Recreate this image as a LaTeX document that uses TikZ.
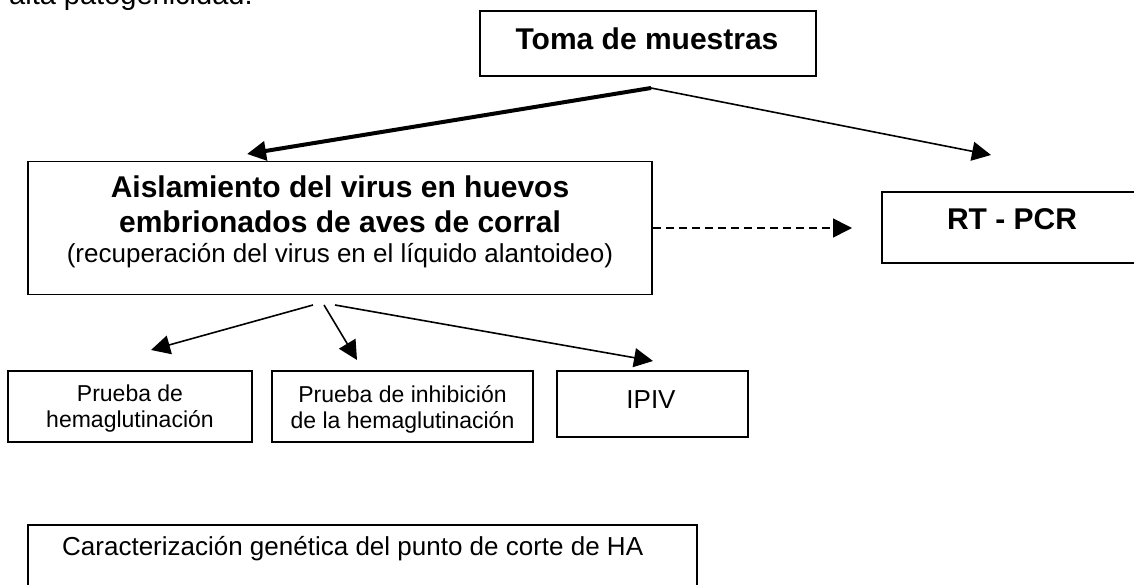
\documentclass[tikz,border=0pt]{standalone}
\usepackage{fontspec}
\setmainfont{Liberation Sans}
\usetikzlibrary{arrows.meta}

\begin{document}
\begin{tikzpicture}[x=1pt,y=-1pt,>={Triangle[length=19pt,width=19pt]}]
  \tikzstyle{caja}=[draw=black, line width=1.8pt, fill=white, inner sep=0pt]
  \tikzstyle{titulo}=[font=\fontsize{30}{35}\selectfont\bfseries, align=center, inner sep=0pt]
  \tikzstyle{texto}=[font=\fontsize{26}{30}\selectfont, align=center, inner sep=0pt]
  \tikzstyle{textochico}=[font=\fontsize{23}{26}\selectfont, align=center, inner sep=0pt]
  \tikzstyle{flecha}=[->, line width=1.6pt]
  \tikzstyle{flechagruesa}=[->, line width=4pt]
  \tikzstyle{flechapunteada}=[->, line width=1.6pt, dash pattern=on 8pt off 5pt]

  \path[use as bounding box] (0,0) rectangle (1134,585);

  \node[inner sep=0pt, anchor=base west, font=\fontsize{29}{33}\selectfont] (parrafo) at (9,5) {alta patogenicidad.};

  % cajas
  \node[caja, minimum width=336pt, minimum height=65pt] (toma) at (648,43.5) {};
  \node[titulo, anchor=base] (tomatxt) at (647,50) {Toma de muestras};

  \node[caja, minimum width=624pt, minimum height=133pt] (aisl) at (340,228) {};
  \node[titulo] (aisltxt) at (340,222)
    {Aislamiento del virus en huevos\\embrionados de aves de corral\\[-5pt]
     {\fontsize{26}{30}\selectfont\mdseries (recuperación del virus en el líquido alantoideo)}};

  \node[caja, minimum width=261pt, minimum height=71pt] (rtpcr) at (1012.5,227.5) {};
  \node[titulo, anchor=base] (rtpcrtxt) at (1012,230) {RT - PCR};

  \node[caja, minimum width=244pt, minimum height=71pt] (phema) at (130,406.5) {};
  \node[textochico] (phematxt) at (130,409) {Prueba de\\hemaglutinación};

  \node[caja, minimum width=261pt, minimum height=71pt] (pinhib) at (402.5,406.5) {};
  \node[textochico] (pinhibtxt) at (402.5,409) {Prueba de inhibición\\de la hemaglutinación};

  \node[caja, minimum width=191pt, minimum height=66pt] (ipiv) at (652.5,404) {};
  \node[texto, anchor=base] (ipivtxt) at (651,408) {IPIV};

  \node[caja, minimum width=669pt, minimum height=80pt] (carac) at (362.5,565) {};
  \node[texto, anchor=base west] (caractxt) at (62,555) {Caracterización genética del punto de corte de HA};

  % extremos libres de las flechas
  \coordinate (horq) at (651,88);
  \coordinate (finaisl) at (247,154);
  \coordinate (finrt) at (991,155);
  \coordinate (finpunt) at (852,228);
  \coordinate (sal1) at (313,305);
  \coordinate (sal2) at (324,305);
  \coordinate (sal3) at (335,305);
  \coordinate (fin1) at (151,350);
  \coordinate (fin2) at (357,360);
  \coordinate (fin3) at (653,361);

  \draw[flechagruesa] (horq) -- (finaisl);
  \draw[flecha] (horq) -- (finrt);
  \draw[flechapunteada] (aisl.east) -- (finpunt);
  \draw[flecha] (sal1) -- (fin1);
  \draw[flecha] (sal2) -- (fin2);
  \draw[flecha] (sal3) -- (fin3);
\end{tikzpicture}
\end{document}
